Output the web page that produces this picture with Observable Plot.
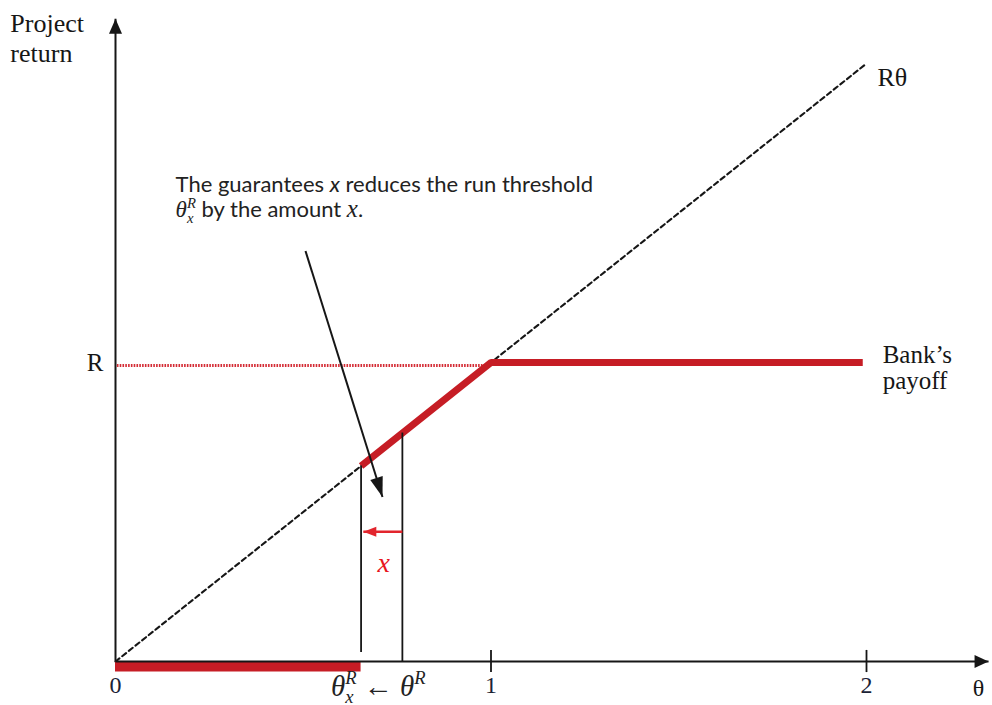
<!DOCTYPE html>
<html>
<head>
<meta charset="utf-8">
<script src="https://cdn.jsdelivr.net/npm/d3@7"></script>
<script src="https://cdn.jsdelivr.net/npm/@observablehq/plot@0.6"></script>
<style>
  body { margin: 0; background: #fff; }
</style>
</head>
<body>
<div id="chart"></div>
<script>
// Return level R (normalised to 1) and the two run thresholds on the θ axis
const R = 1;
const thetaR = 0.764;          // run threshold without guarantees
const thetaXR = 0.654;         // run threshold with guarantees x
const guaranteeY = 0.434;      // height of the red "x" shift arrow

// Project return Rθ (dashed 45° line)
const returnTheta = [0, 2];
const returnValue = [0, 2];

// Bank's payoff: Rθ between θ_x^R and 1, capped at R afterwards
const payoffTheta = [0.654, 1, 1.99];
const payoffValue = [0.654, 1, 1];

// Zero payoff below the run threshold
const runTheta = [0, 0.654];

// Axis ticks
const tickValues = [1, 2];
const tickLabelValues = [0, 1, 2];
const tickLabels = ["0", "1", "2"];

const returnLine = returnTheta.map((t, i) => ({theta: t, value: returnValue[i]}));
const payoffLine = payoffTheta.map((t, i) => ({theta: t, value: payoffValue[i]}));

const RED = "#c61d25";
const INK = "#161616";
const SERIF = "'Liberation Serif', 'DejaVu Serif', serif";
const SANS = "Lato, 'Open Sans', sans-serif";

// Filled triangular arrowhead, tip at the end of the path
function head(len, wid) {
  return (color) => {
    const m = d3.create("svg:marker")
      .attr("viewBox", `${-len} ${-wid / 2} ${len} ${wid}`)
      .attr("markerUnits", "userSpaceOnUse")
      .attr("markerWidth", len)
      .attr("markerHeight", wid)
      .attr("orient", "auto")
      .attr("overflow", "visible");
    m.append("path")
      .attr("d", `M${-len},${-wid / 2}L0,0L${-len},${wid / 2}Z`)
      .attr("fill", color)
      .attr("stroke", "none");
    return m.node();
  };
}

// Rich text: plain runs, italic runs, and a base glyph with stacked sub/superscripts
function rich(parts, F) {
  return (index, scales, values, dimensions, context, next) => {
    const g = next(index, scales, values, dimensions, context);
    d3.select(g).selectAll("text").each(function () {
      const text = d3.select(this).text(null);
      let back = 0;
      const span = (s) => {
        const ts = text.append("tspan").text(s);
        if (back) { ts.attr("dy", back); back = 0; }
        return ts;
      };
      for (const p of parts) {
        const ts = span(p.t);
        if (p.italic) ts.attr("font-style", "italic");
        if (p.family) ts.attr("font-family", p.family);
        if (p.size) ts.attr("font-size", p.size);
        if (p.sub != null || p.sup != null) {
          const base = p.size || F;
          const s = 0.64 * base;
          let offset = 0;
          if (p.sub != null) {
            text.append("tspan").text(p.sub)
              .attr("font-size", s).attr("font-style", "italic")
              .attr("font-family", p.family || null)
              .attr("dy", 0.24 * base);
            offset = 0.24 * base;
          }
          if (p.sup != null) {
            const sup = text.append("tspan").text(p.sup)
              .attr("font-size", s).attr("font-style", "italic")
              .attr("font-family", p.family || null)
              .attr("dy", -offset - 0.40 * base);
            if (p.sub != null) sup.attr("class", "stack");
            back = 0.40 * base;
          } else {
            back = -offset;
          }
        }
      }
    });
    return g;
  };
}

const plot = Plot.plot({
  width: 992,
  height: 705,
  marginLeft: 115,
  marginRight: 126,
  marginTop: 63,
  marginBottom: 44,
  x: {domain: [0, 2], axis: null},
  y: {domain: [0, 2], axis: null},
  style: {background: "#fff", overflow: "visible"},
  marks: [
    // Dotted reference level R
    Plot.ruleY([R], {x1: 0.005, x2: 0.99, dy: 3, stroke: "#d42c35", strokeWidth: 3, strokeDasharray: "1.6,1.2"}),

    // Project return Rθ
    Plot.line(returnLine, {x: "theta", y: "value", stroke: INK, strokeWidth: 2.1, strokeDasharray: "5,3.5"}),

    // Bank's payoff
    Plot.line(payoffLine, {x: "theta", y: "value", stroke: RED, strokeWidth: 7,
      strokeLinecap: "butt", strokeLinejoin: "miter"}),
    Plot.ruleY([0], {x1: runTheta[0], x2: runTheta[1], dy: 5, stroke: RED, strokeWidth: 10, strokeLinecap: "butt"}),

    // Axes with arrowheads
    Plot.link([0], {x1: 0, y1: 0, x2: 2.325, y2: 0, stroke: INK, strokeWidth: 2, markerEnd: head(14, 13)}),
    Plot.link([0], {x1: 0, y1: 0, x2: 0, y2: 2.15, stroke: INK, strokeWidth: 2, markerEnd: head(15, 13)}),
    Plot.ruleX(tickValues, {y1: -0.037, y2: 0.037, stroke: INK, strokeWidth: 1.8}),
    Plot.text(tickLabelValues, {x: (d) => d, y: -0.107, text: (d, i) => tickLabels[i], lineAnchor: "bottom",
      fontFamily: SERIF, fontSize: 24, fill: "#1b2235"}),

    // Run thresholds
    Plot.ruleX([thetaXR], {y1: 0.03, y2: thetaXR, stroke: INK, strokeWidth: 1.8}),
    Plot.ruleX([thetaR], {y1: 0, y2: thetaR, stroke: INK, strokeWidth: 1.8}),

    // Shift of the threshold by the guarantees x
    Plot.link([0], {x1: thetaR, y1: guaranteeY, x2: thetaXR + 0.006, y2: guaranteeY,
      stroke: "#e2252d", strokeWidth: 2.5, markerEnd: head(13, 10)}),
    Plot.text(["x"], {x: 0.714, y: 0.298, lineAnchor: "bottom", fontFamily: SERIF, fontStyle: "italic",
      fontSize: 28, fill: "#e8161e"}),

    // Annotation and its pointer
    Plot.link([0], {x1: 0.506, y1: 1.373, x2: 0.711, y2: 0.55, stroke: INK, strokeWidth: 2, markerEnd: head(20, 13)}),
    Plot.text(["The guarantees x reduces the run threshold"], {x: 0.16, y: 1.569, textAnchor: "start",
      lineAnchor: "bottom", fontFamily: SANS, fontSize: 22, fill: "#222",
      render: rich([
        {t: "The guarantees "},
        {t: "x", italic: true},
        {t: " reduces the run threshold"}
      ], 22)}),
    Plot.text(["θxR by the amount x."], {x: 0.16, y: 1.485, textAnchor: "start",
      lineAnchor: "bottom", fontFamily: SANS, fontSize: 22, fill: "#222",
      render: rich([
        {t: "θ", italic: true, family: SERIF, size: 23, sub: "x", sup: "R"},
        {t: " by the amount "},
        {t: "x", italic: true, family: SERIF, size: 25},
        {t: "."}
      ], 22)}),

    // Threshold labels under the axis
    Plot.text(["θxR ← θR"], {x: 0.70, y: -0.114, textAnchor: "middle", lineAnchor: "bottom",
      fontFamily: SERIF, fontSize: 29, fill: "#222",
      render: rich([
        {t: "θ", italic: true, sub: "x", sup: "R"},
        {t: " ← "},
        {t: "θ", italic: true, sup: "R"}
      ], 29)}),

    // Axis titles and line labels
    Plot.text(["Project"], {x: -0.28, y: 2.104, textAnchor: "start", lineAnchor: "bottom",
      fontFamily: SERIF, fontSize: 26, fill: INK}),
    Plot.text(["return"], {x: -0.28, y: 2.004, textAnchor: "start", lineAnchor: "bottom",
      fontFamily: SERIF, fontSize: 26, fill: INK}),
    Plot.text(["θ"], {x: 2.298, y: -0.114, textAnchor: "middle", lineAnchor: "bottom",
      fontFamily: SERIF, fontSize: 24, fill: INK}),
    Plot.text(["R"], {x: -0.032, y: 0.97, textAnchor: "end", lineAnchor: "bottom",
      fontFamily: SERIF, fontSize: 25, fill: INK}),
    Plot.text(["Rθ"], {x: 2.029, y: 1.926, textAnchor: "start", lineAnchor: "bottom",
      fontFamily: SERIF, fontSize: 26, fill: INK}),
    Plot.text(["Bank’s"], {x: 2.043, y: 0.997, textAnchor: "start", lineAnchor: "bottom",
      fontFamily: SERIF, fontSize: 25, fill: INK}),
    Plot.text(["payoff"], {x: 2.043, y: 0.913, textAnchor: "start", lineAnchor: "bottom",
      fontFamily: SERIF, fontSize: 25, fill: INK})
  ]
});

document.getElementById("chart").append(plot);

// Pull each stacked superscript back over its subscript
plot.querySelectorAll("tspan.stack").forEach((t) => {
  const prev = t.previousElementSibling;
  if (prev) t.setAttribute("dx", -prev.getComputedTextLength());
});
</script>
</body>
</html>
